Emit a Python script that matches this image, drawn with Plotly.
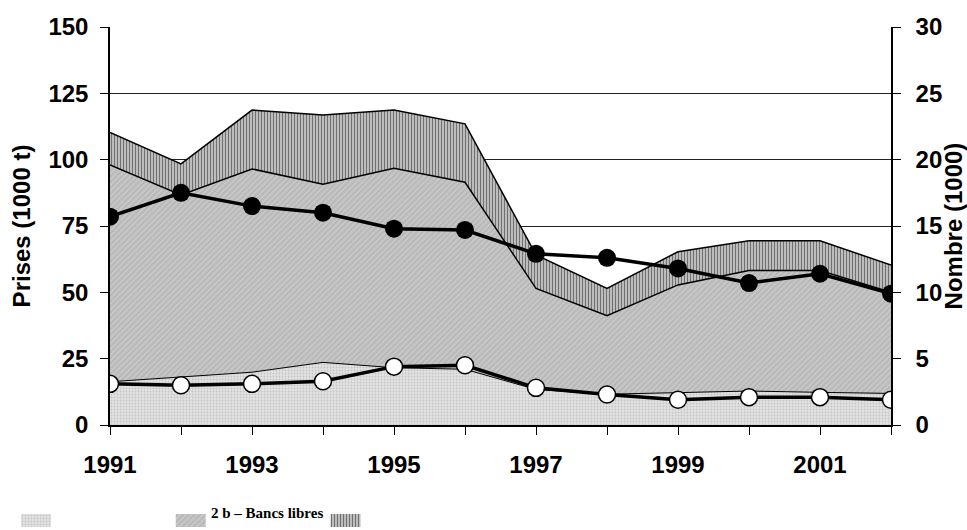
import plotly.graph_objects as go

# Values
years = [1991, 1992, 1993, 1994, 1995, 1996, 1997, 1998, 1999, 2000, 2001, 2002]

# catches (1000 t), upper edges of the areas
light_top = [16.3, 18.2, 19.9, 23.6, 21.6, 21.0, 13.4, 11.6, 12.2, 12.8, 12.3, 11.9]
gray_top = [98.0, 86.7, 96.5, 90.7, 96.8, 91.5, 51.5, 41.2, 52.8, 58.2, 58.2, 50.0]
hatch_top = [110.3, 98.4, 118.7, 116.8, 118.7, 113.5, 64.1, 51.5, 65.3, 69.4, 69.4, 60.3]

# number (1000), right axis
black_count = [15.7, 17.5, 16.5, 16.0, 14.8, 14.7, 12.9, 12.6, 11.8, 10.7, 11.4, 9.9]
white_count = [3.1, 3.0, 3.1, 3.3, 4.4, 4.5, 2.8, 2.3, 1.9, 2.1, 2.1, 1.9]

legend_keys = ["light", "gray", "hatch"]
legend_text = "2 b \u2013 Bancs libres"

W, H = 967, 530
SANS = "Liberation Sans, Arial"

pat_light = dict(shape=".", bgcolor="#e2e2e2", fgcolor="#a8a8a8", size=3, solidity=0.3)
pat_gray = dict(shape="/", bgcolor="#b9b9b9", fgcolor="#dedede", size=4, solidity=0.35)
pat_hatch = dict(shape="|", bgcolor="#c4c4c4", fgcolor="#1e1e1e", size=3, solidity=0.4)

fig = go.Figure()

fig.add_trace(go.Scatter(x=years, y=gray_top, mode="lines", fill="tozeroy",
                         line=dict(color="black", width=1.5), fillpattern=pat_gray,
                         fillcolor="#b9b9b9"))
fig.add_trace(go.Scatter(x=years, y=hatch_top, mode="lines", fill="tonexty",
                         line=dict(color="black", width=1.5), fillpattern=pat_hatch,
                         fillcolor="#c4c4c4"))
fig.add_trace(go.Scatter(x=years, y=light_top, mode="lines", fill="tozeroy",
                         line=dict(color="black", width=1), fillpattern=pat_light,
                         fillcolor="#e2e2e2"))

fig.add_trace(go.Scatter(x=years, y=black_count, yaxis="y2", mode="lines+markers",
                         line=dict(color="black", width=3.5),
                         marker=dict(size=18, color="black")))
fig.add_trace(go.Scatter(x=years, y=white_count, yaxis="y2", mode="lines+markers",
                         line=dict(color="black", width=3.5),
                         marker=dict(size=17, color="white", line=dict(color="black", width=1.5))))

# legend swatches drawn as bars on a hidden axis below the chart
for key, pat in zip(legend_keys, [pat_light, pat_gray, pat_hatch]):
    fig.add_trace(go.Bar(x=[key], y=[1], xaxis="x3", yaxis="y3", width=0.194,
                         marker=dict(color=pat["bgcolor"], pattern=pat, line=dict(width=0))))

x0, x1 = 110 / W, 891 / W
y0, y1 = (H - 425) / H, (H - 27) / H

axis_font = dict(family=SANS, size=24, color="black", weight="bold")

fig.update_layout(
    width=W, height=H,
    margin=dict(l=0, r=0, t=0, b=0),
    paper_bgcolor="white", plot_bgcolor="white",
    showlegend=False,
    xaxis=dict(domain=[x0, x1], range=[1991, 2002], dtick=2, tick0=1991,
               ticks="outside", ticklen=8, tickcolor="black", showgrid=False,
               showline=True, linecolor="black", linewidth=1.5, zeroline=False,
               minor=dict(dtick=1, ticks="outside", ticklen=8, tickcolor="black"),
               tickfont=axis_font, ticklabelstandoff=9, automargin=False),
    yaxis=dict(domain=[y0, y1], range=[0, 150], dtick=25,
               ticks="outside", ticklen=8, tickcolor="black",
               showgrid=True, gridcolor="#222222", gridwidth=1,
               showline=True, linecolor="black", linewidth=1.5, zeroline=False,
               tickfont=axis_font, ticklabelstandoff=7, automargin=False,
               title=dict(text="Prises (1000 t)", font=axis_font, standoff=11)),
    yaxis2=dict(overlaying="y", side="right", anchor="x", range=[0, 30], dtick=5,
                ticks="outside", ticklen=8, tickcolor="black", showgrid=False,
                showline=True, linecolor="black", linewidth=1.5, zeroline=False,
                tickfont=axis_font, ticklabelstandoff=10, automargin=False,
                title=dict(text="Nombre (1000)", font=axis_font, standoff=0)),
    xaxis3=dict(domain=[0, 1], anchor="y3", type="category", range=[-0.2326, 6.016],
                visible=False),
    yaxis3=dict(domain=[3 / H, 16 / H], anchor="x3", range=[0, 1], visible=False),
    annotations=[dict(text="<b>" + legend_text + "</b>", xref="paper", yref="paper",
                      x=209 / W, y=17 / H, xanchor="left", yanchor="middle",
                      showarrow=False,
                      font=dict(family="Liberation Serif, Times New Roman", size=15,
                                color="black"))],
)

# the page adds an 8px body margin; remove it so the 967x530 figure fits the window
fig.write_html("out.html", config={"displayModeBar": False},
               post_script="document.body.style.margin='0';")
